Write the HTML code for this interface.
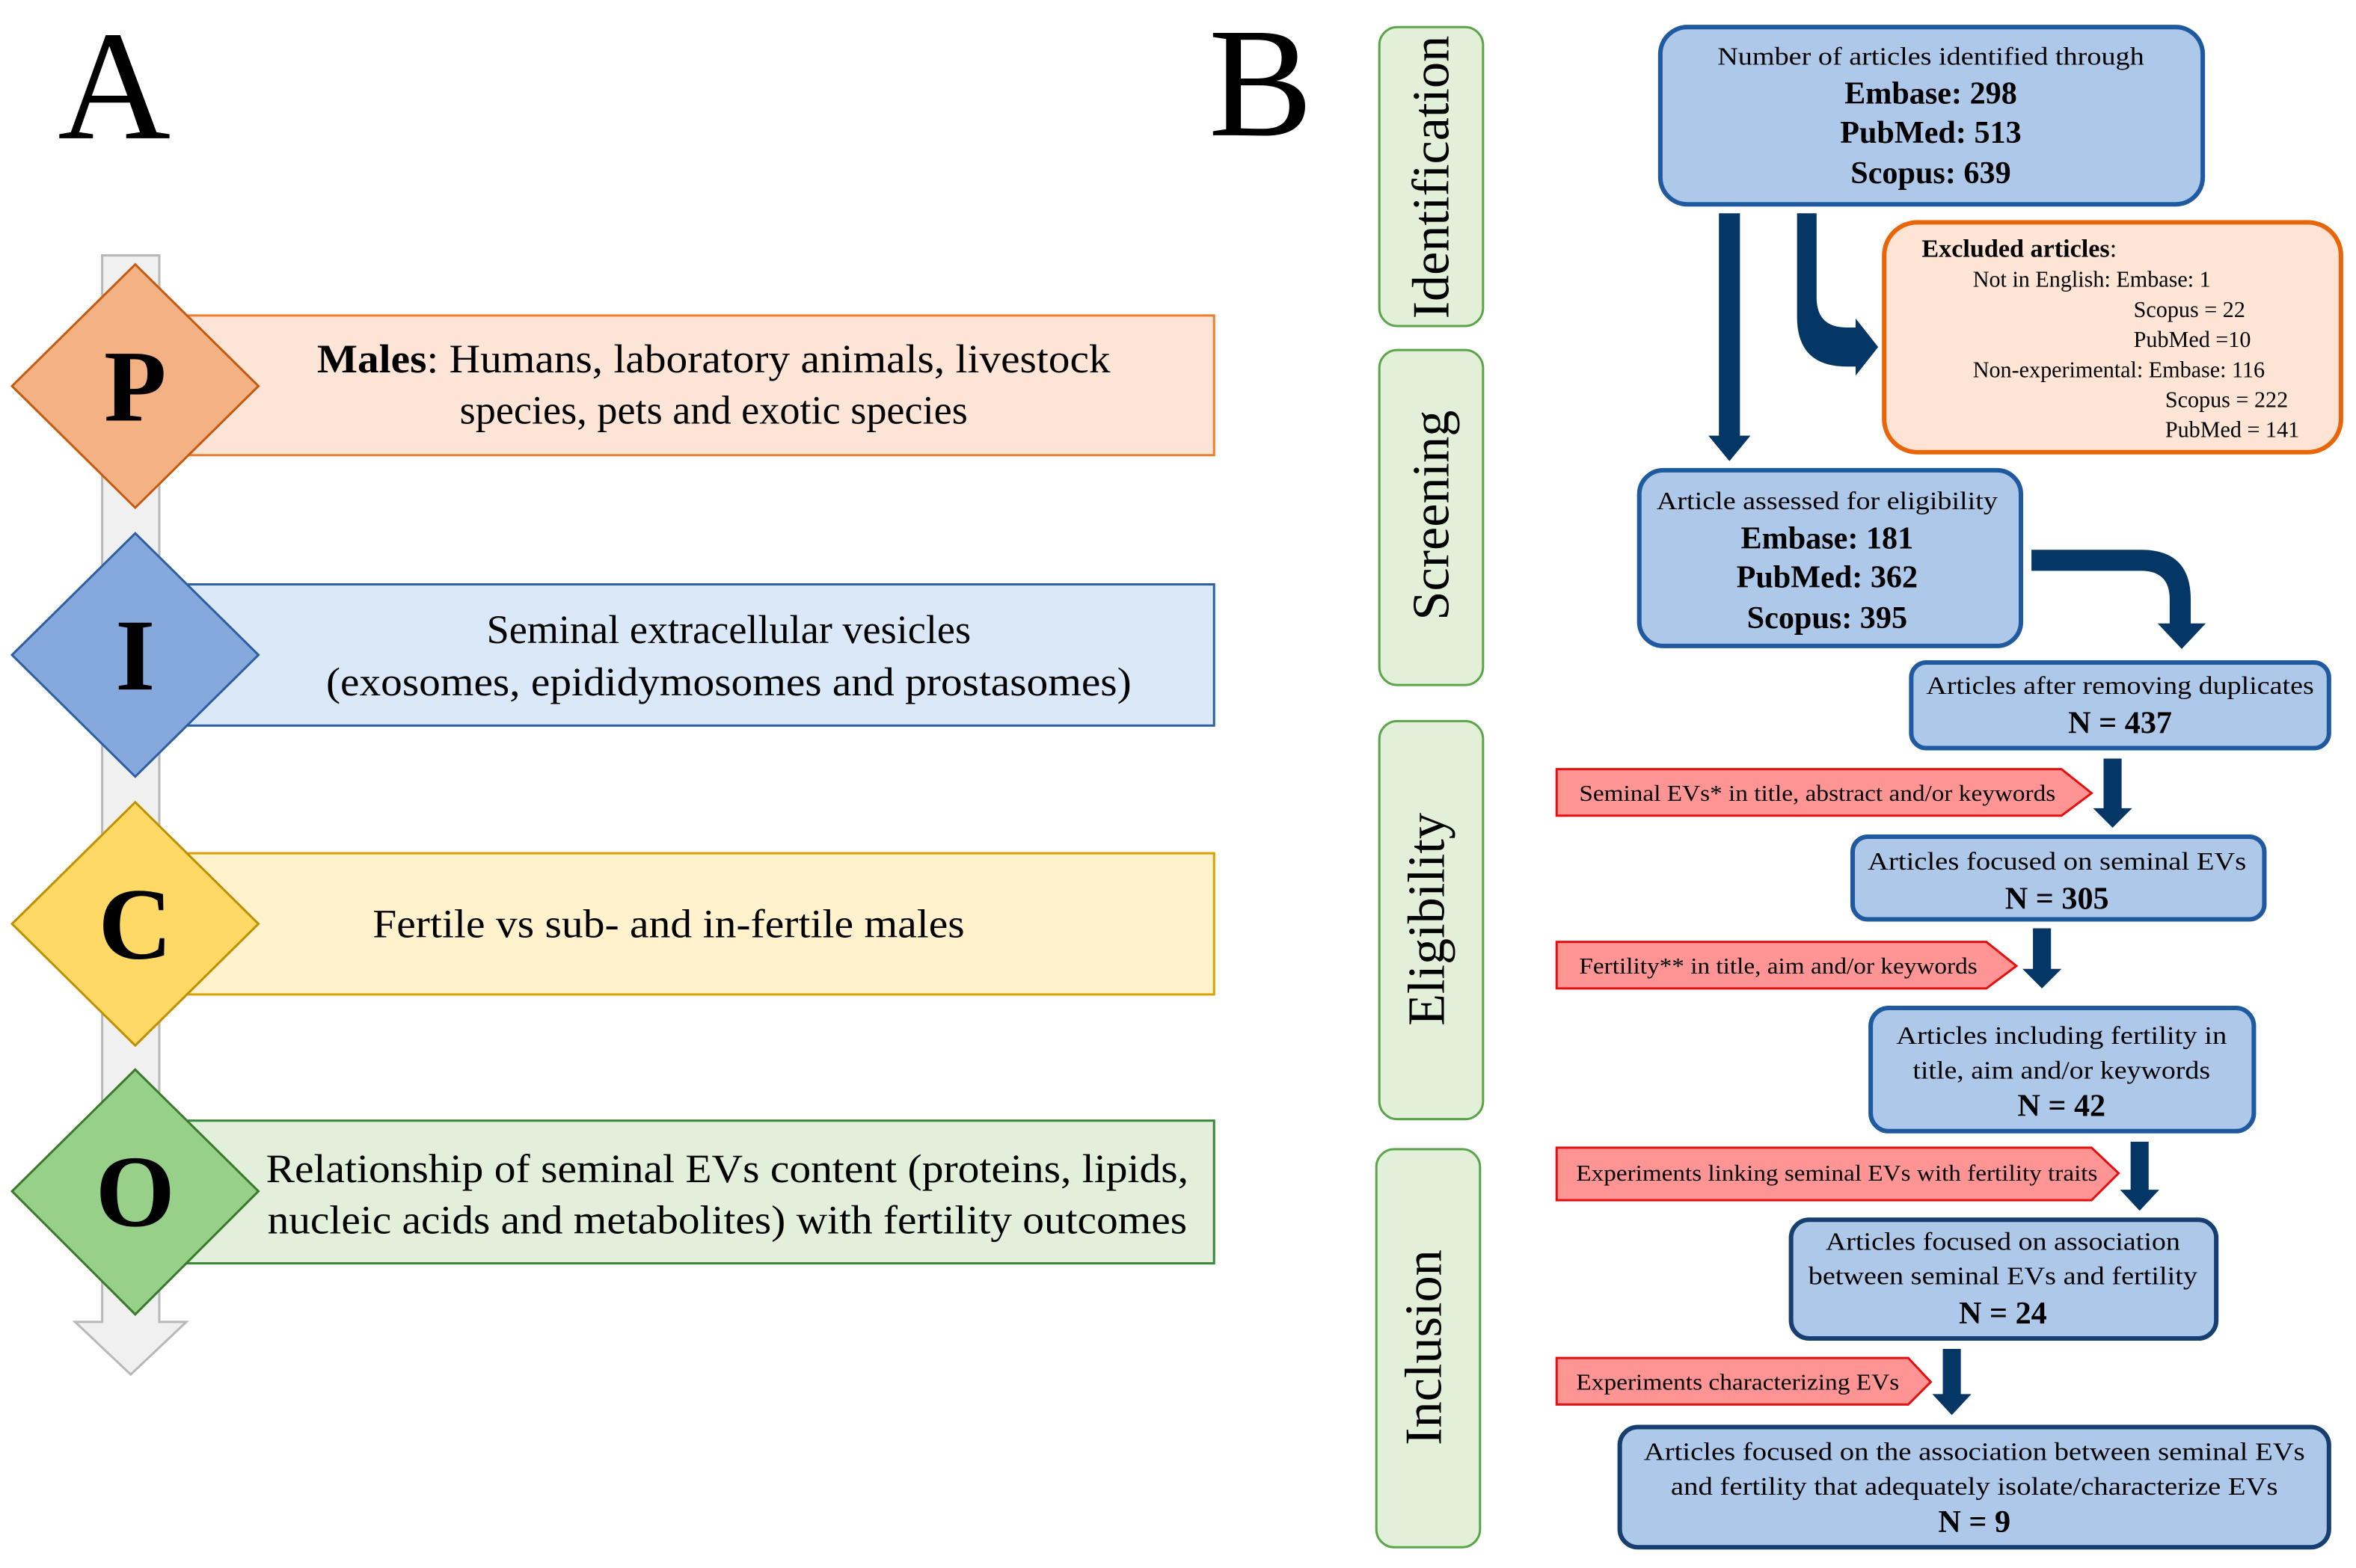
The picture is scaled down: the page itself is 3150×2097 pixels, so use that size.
<!DOCTYPE html>
<html><head><meta charset="utf-8"><style>
html,body{margin:0;padding:0;background:#fff;}
svg{display:block;}
svg, svg text{font-family:"Liberation Serif","Times New Roman",serif;}
</style></head><body>
<svg width="3150" height="2097" viewBox="0 0 1568 1043.8" xmlns="http://www.w3.org/2000/svg" font-family="Liberation Serif, serif">
<rect width="1568" height="1044" fill="#fff"/>
<text x="76" y="92" font-size="104" text-anchor="middle">A</text>
<text x="839" y="90" font-size="104" text-anchor="middle">B</text>

<path d="M68,170 H106 V880 H124 L87,915 L50,880 H68 Z" fill="#f0f0f0" stroke="#b8b8b8" stroke-width="1.5"/>

<rect x="120" y="210" width="688" height="93" fill="#fce4d6" stroke="#ed7d31" stroke-width="1.5"/>
<polygon points="90,176 172,257 90,338 8,257" fill="#f4b183" stroke="#c55a11" stroke-width="1.5"/>
<text x="90" y="280" font-size="68" font-weight="bold" text-anchor="middle">P</text>
<text x="475" y="248" font-size="27" text-anchor="middle" textLength="528" lengthAdjust="spacingAndGlyphs"><tspan font-weight="bold">Males</tspan>: Humans, laboratory animals, livestock</text>
<text x="475" y="282" font-size="27" text-anchor="middle">species, pets and exotic species</text>

<rect x="120" y="389" width="688" height="94" fill="#dae8f7" stroke="#2e5fa3" stroke-width="1.5"/>
<polygon points="90,355 172,436 90,517 8,436" fill="#85a9dc" stroke="#2e5fa3" stroke-width="1.5"/>
<text x="90" y="459" font-size="68" font-weight="bold" text-anchor="middle">I</text>
<text x="485" y="428" font-size="27" text-anchor="middle">Seminal extracellular vesicles</text>
<text x="485" y="463" font-size="27" text-anchor="middle" textLength="536" lengthAdjust="spacingAndGlyphs">(exosomes, epididymosomes and prostasomes)</text>

<rect x="120" y="568" width="688" height="94" fill="#fff2cc" stroke="#d6a300" stroke-width="1.5"/>
<polygon points="90,534 172,615 90,696 8,615" fill="#ffd966" stroke="#bf9000" stroke-width="1.5"/>
<text x="90" y="638" font-size="68" font-weight="bold" text-anchor="middle">C</text>
<text x="445" y="624" font-size="27" text-anchor="middle" textLength="394" lengthAdjust="spacingAndGlyphs">Fertile vs sub- and in-fertile males</text>

<rect x="120" y="746" width="688" height="95" fill="#e2efda" stroke="#38883a" stroke-width="1.5"/>
<polygon points="90,712 172,793 90,875 8,793" fill="#96d089" stroke="#3a7a2a" stroke-width="1.5"/>
<text x="90" y="816" font-size="68" font-weight="bold" text-anchor="middle">O</text>
<text x="484" y="787" font-size="27" text-anchor="middle" textLength="614" lengthAdjust="spacingAndGlyphs">Relationship of seminal EVs content (proteins, lipids,</text>
<text x="484" y="821" font-size="27" text-anchor="middle" textLength="612" lengthAdjust="spacingAndGlyphs">nucleic acids and metabolites) with fertility outcomes</text>

<g fill="#e2f0d9" stroke="#5aa54a" stroke-width="1.5">
<rect x="918" y="18" width="69" height="199" rx="12"/>
<rect x="918" y="233" width="69" height="223" rx="12"/>
<rect x="918" y="480" width="69" height="265" rx="12"/>
<rect x="916" y="765" width="69" height="265" rx="12"/>
</g>
<g font-size="35" text-anchor="middle">
<text transform="translate(964,118) rotate(-90)">Identification</text>
<text transform="translate(964,343) rotate(-90)">Screening</text>
<text transform="translate(961,612) rotate(-90)">Eligibility</text>
<text transform="translate(959,897) rotate(-90)">Inclusion</text>
</g>

<g fill="#adc8e8" stroke="#1f5aa0" stroke-width="3">
<rect x="1105" y="18" width="361" height="118" rx="18"/>
<rect x="1091" y="313" width="254" height="117" rx="16"/>
<rect x="1272" y="441" width="278" height="57" rx="10"/>
<rect x="1233" y="557" width="274" height="55" rx="10"/>
<rect x="1245" y="671" width="255" height="82" rx="12"/>
<rect x="1192" y="812" width="283" height="79" rx="12" stroke="#163e70"/>
<rect x="1078" y="950" width="472" height="80" rx="12" stroke="#163e70"/>
</g>
<rect x="1254" y="148" width="304" height="153" rx="22" fill="#fde4d4" stroke="#e8650a" stroke-width="3"/>

<g text-anchor="middle">
<text x="1285" y="43" font-size="17" textLength="284" lengthAdjust="spacingAndGlyphs">Number of articles identified through</text>
<text x="1285" y="69" font-size="21" font-weight="bold">Embase: 298</text>
<text x="1285" y="95" font-size="21" font-weight="bold">PubMed: 513</text>
<text x="1285" y="122" font-size="21" font-weight="bold">Scopus: 639</text>

<text x="1216" y="339" font-size="17" textLength="227" lengthAdjust="spacingAndGlyphs">Article assessed for eligibility</text>
<text x="1216" y="365" font-size="21" font-weight="bold">Embase: 181</text>
<text x="1216" y="391" font-size="21" font-weight="bold">PubMed: 362</text>
<text x="1216" y="418" font-size="21" font-weight="bold">Scopus: 395</text>

<text x="1411" y="462" font-size="17" textLength="258" lengthAdjust="spacingAndGlyphs">Articles after removing duplicates</text>
<text x="1411" y="488" font-size="21" font-weight="bold">N = 437</text>

<text x="1369" y="579" font-size="17" textLength="252" lengthAdjust="spacingAndGlyphs">Articles focused on seminal EVs</text>
<text x="1369" y="605" font-size="21" font-weight="bold">N = 305</text>

<text x="1372" y="695" font-size="17" textLength="220" lengthAdjust="spacingAndGlyphs">Articles including fertility in</text>
<text x="1372" y="718" font-size="17" textLength="198" lengthAdjust="spacingAndGlyphs">title, aim and/or keywords</text>
<text x="1372" y="743" font-size="21" font-weight="bold">N = 42</text>

<text x="1333" y="832" font-size="17" textLength="236" lengthAdjust="spacingAndGlyphs">Articles focused on association</text>
<text x="1333" y="855" font-size="17" textLength="259" lengthAdjust="spacingAndGlyphs">between seminal EVs and fertility</text>
<text x="1333" y="881" font-size="21" font-weight="bold">N = 24</text>

<text x="1314" y="972" font-size="17" textLength="440" lengthAdjust="spacingAndGlyphs">Articles focused on the association between seminal EVs</text>
<text x="1314" y="995" font-size="17" textLength="404" lengthAdjust="spacingAndGlyphs">and fertility that adequately isolate/characterize EVs</text>
<text x="1314" y="1020" font-size="21" font-weight="bold">N = 9</text>
</g>

<g font-size="15">
<text x="1279" y="171" font-size="17" font-weight="bold">Excluded articles<tspan font-weight="normal">:</tspan></text>
<text x="1313" y="191">Not in English: Embase: 1</text>
<text x="1420" y="211">Scopus = 22</text>
<text x="1420" y="231">PubMed =10</text>
<text x="1313" y="251">Non-experimental: Embase: 116</text>
<text x="1441" y="271">Scopus = 222</text>
<text x="1441" y="291">PubMed = 141</text>
</g>

<g fill="#ff9494" stroke="#e41010" stroke-width="1.5">
<polygon points="1036,512 1372,512 1392,528 1372,543 1036,543"/>
<polygon points="1036,627 1322,627 1342,643 1322,658 1036,658"/>
<polygon points="1036,764 1392,764 1410,781 1392,799 1036,799"/>
<polygon points="1036,904 1270,904 1285,920 1270,935 1036,935"/>
</g>
<g font-size="15">
<text x="1051" y="533" textLength="317" lengthAdjust="spacingAndGlyphs">Seminal EVs* in title, abstract and/or keywords</text>
<text x="1051" y="648" textLength="265" lengthAdjust="spacingAndGlyphs">Fertility** in title, aim and/or keywords</text>
<text x="1049" y="786" textLength="347" lengthAdjust="spacingAndGlyphs">Experiments linking seminal EVs with fertility traits</text>
<text x="1049" y="925" textLength="215" lengthAdjust="spacingAndGlyphs">Experiments characterizing EVs</text>
</g>

<g fill="#053766">
<path d="M1144,142 H1158 V290 H1165 L1151,307 L1137,290 H1144 Z"/>
<path d="M1196,142 H1209 V198 Q1209,218 1229,218 H1235 V212 L1250,231 L1235,250 V244 H1229 Q1196,244 1196,211 Z"/>
<path d="M1352,366 H1425 Q1458,366 1458,399 V415 H1468 L1452,432 L1436,415 H1444 V399 Q1444,380 1425,380 H1352 Z"/>
<path d="M1400,505 H1412 V538 H1419 L1406,551 L1393,538 H1400 Z"/>
<path d="M1353,618 H1365 V645 H1372 L1359,658 L1346,645 H1353 Z"/>
<path d="M1418,760 H1430 V792 H1437 L1424,806 L1411,792 H1418 Z"/>
<path d="M1293,898 H1305 V928 H1312 L1299,942 L1286,928 H1293 Z"/>
</g>
</svg>
</body></html>
